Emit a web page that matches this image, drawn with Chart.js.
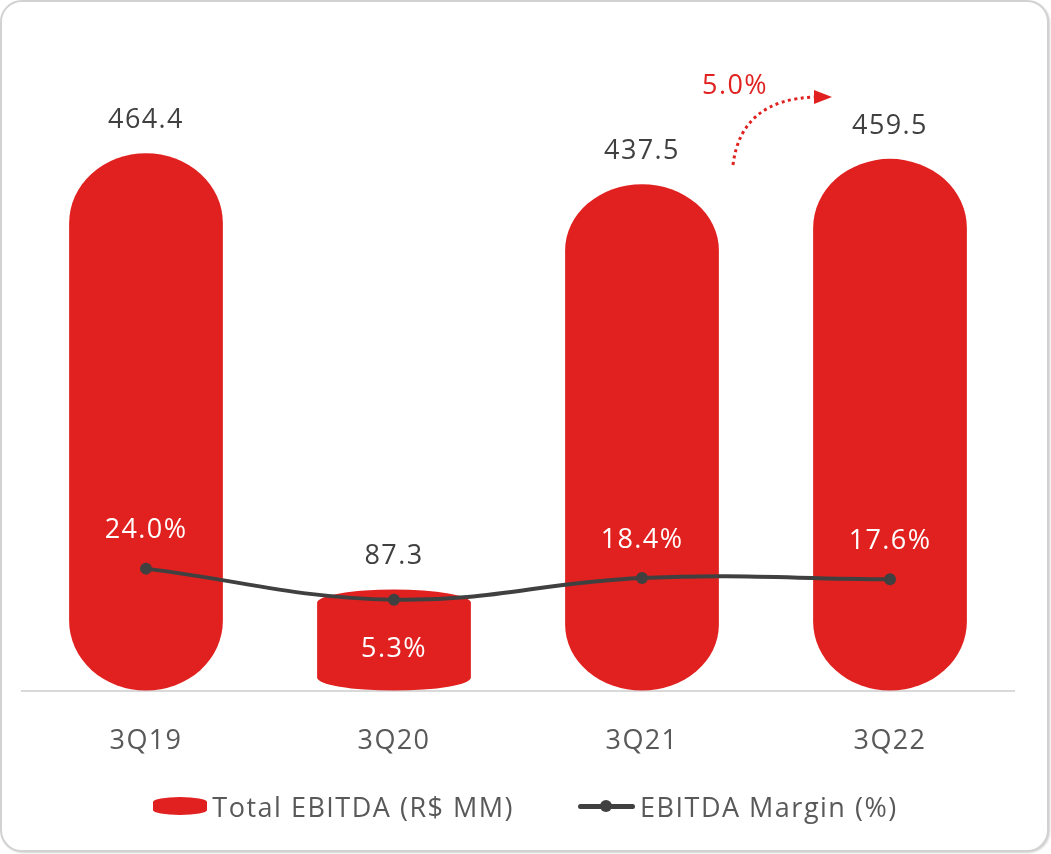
<!DOCTYPE html>
<html>
<head>
<meta charset="utf-8">
<script src="https://cdn.jsdelivr.net/npm/chart.js@4.4.0/dist/chart.umd.min.js"></script>
<style>
  html, body { margin: 0; padding: 0; background: #fff; }
  body { width: 1051px; height: 854px; position: relative; overflow: hidden; font-family: "Open Sans", sans-serif; }
  .card {
    position: absolute; left: 0; top: 0; width: 1049px; height: 852px;
    box-sizing: border-box; border: 2px solid #d2d2d2; border-radius: 22px;
    box-shadow: 1px 1px 2px rgba(0,0,0,0.18); background: #fff;
  }
  .chart-box { position: absolute; left: 0; top: 0; width: 1051px; height: 801px; }
  .legend {
    position: absolute; left: 0; top: 788px; width: 1051px; height: 36px;
    display: flex; justify-content: center; align-items: center; gap: 64px;
    color: #595959; font-size: 27px; letter-spacing: 1.5px;
  }
  .legend-item { display: flex; align-items: center; gap: 5px; }
  .mk-bar { width: 54px; height: 18px; background: #e1211f; border-radius: 27px / 5px; }
  .mk-line { position: relative; width: 57px; height: 14px; }
  .mk-line::before { content: ""; position: absolute; left: 0; right: 0; top: 5px; height: 5px; background: #404040; border-radius: 3px; }
  .mk-line::after { content: ""; position: absolute; left: 22px; top: 1px; width: 12px; height: 12px; background: #404040; border-radius: 50%; }
</style>
</head>
<body>
<div class="card"></div>
<div class="chart-box"><canvas id="ebitda-chart" width="1051" height="801"></canvas></div>
<div class="legend">
  <div class="legend-item"><span class="mk-bar"></span><span>Total EBITDA (R$ MM)</span></div>
  <div class="legend-item"><span class="mk-line"></span><span>EBITDA Margin (%)</span></div>
</div>
<script>
(function () {
  "use strict";

  const QUARTERS = ["3Q19", "3Q20", "3Q21", "3Q22"];
  const EBITDA = [464.4, 87.3, 437.5, 459.5];
  const MARGIN = [24.0, 5.3, 18.4, 17.6];
  const MARGIN_CHANGE = "5.0%";

  const RED = "#e1211f";
  const DARK = "#404040";
  const GRAY_TEXT = "#595959";
  const FONT = '"Open Sans", sans-serif';

  // slightly tracked text everywhere on the canvas
  const spacing = {
    id: "spacing",
    beforeDraw(chart) {
      chart.ctx.letterSpacing = "1.4px";
    },
  };

  // rounded-cap bars (elliptical ends) drawn from the bar elements' own geometry
  const capsuleBars = {
    id: "capsuleBars",
    beforeDatasetDraw(chart, args) {
      if (args.index !== 0) return;
      const ctx = chart.ctx;
      ctx.save();
      ctx.fillStyle = RED;
      args.meta.data.forEach((bar) => {
        const rx = bar.width / 2;
        const h = bar.base - bar.y;
        const ry = Math.min(rx, h * 0.13);
        ctx.beginPath();
        ctx.ellipse(bar.x, bar.y + ry, rx, ry, 0, Math.PI, 2 * Math.PI);
        ctx.lineTo(bar.x + rx, bar.base - ry);
        ctx.ellipse(bar.x, bar.base - ry, rx, ry, 0, 0, Math.PI);
        ctx.closePath();
        ctx.fill();
      });
      ctx.restore();
      return false;
    },
  };

  const valueLabels = {
    id: "valueLabels",
    afterDatasetsDraw(chart) {
      const ctx = chart.ctx;
      const bars = chart.getDatasetMeta(0).data;
      const points = chart.getDatasetMeta(1).data;
      ctx.save();
      ctx.letterSpacing = "1.4px";
      ctx.textAlign = "center";
      ctx.textBaseline = "middle";
      ctx.font = "27px " + FONT;

      bars.forEach((bar, i) => {
        ctx.fillStyle = DARK;
        ctx.fillText(EBITDA[i].toFixed(1), bar.x, bar.y - 33);
      });

      points.forEach((pt, i) => {
        ctx.fillStyle = "#ffffff";
        const barTop = bars[i].y;
        const below = pt.y - barTop < 40;
        ctx.fillText(MARGIN[i].toFixed(1) + "%", pt.x, below ? pt.y + 50 : pt.y - 38);
      });

      // change annotation between the last two quarters
      const x = chart.scales.x;
      const area = chart.chartArea;
      const a = x.getPixelForValue(2);
      const b = x.getPixelForValue(3);
      const mid = (a + b) / 2;
      ctx.fillStyle = RED;
      ctx.fillText(MARGIN_CHANGE, mid - 31, area.top - 26);

      const sx = mid - 33, sy = area.top + 53;
      const ex = b - 74, ey = area.top - 15;
      ctx.strokeStyle = RED;
      ctx.lineWidth = 3;
      ctx.setLineDash([3, 3.5]);
      ctx.beginPath();
      ctx.moveTo(sx, sy);
      ctx.quadraticCurveTo(sx + 8, ey + 2, ex, ey);
      ctx.stroke();
      ctx.setLineDash([]);
      ctx.beginPath();
      ctx.moveTo(ex - 2, ey - 7);
      ctx.lineTo(ex + 16, ey);
      ctx.lineTo(ex - 2, ey + 7);
      ctx.closePath();
      ctx.fill();
      ctx.restore();
    },
  };

  function init() {
    const canvas = document.getElementById("ebitda-chart");
    if (!canvas || typeof Chart === "undefined") return;

    new Chart(canvas, {
      type: "bar",
      data: {
        labels: QUARTERS,
        datasets: [
          {
            type: "bar",
            label: "Total EBITDA (R$ MM)",
            data: EBITDA,
            backgroundColor: RED,
            yAxisID: "y",
            categoryPercentage: 1,
            barPercentage: 0.62,
            order: 2,
          },
          {
            type: "line",
            label: "EBITDA Margin (%)",
            data: MARGIN,
            yAxisID: "y2",
            borderColor: DARK,
            backgroundColor: DARK,
            borderWidth: 4,
            pointRadius: 6,
            pointBackgroundColor: DARK,
            pointBorderWidth: 0,
            tension: 0.4,
            order: 1,
          },
        ],
      },
      plugins: [spacing, capsuleBars, valueLabels],
      options: {
        responsive: false,
        animation: false,
        layout: { padding: { left: 22, right: 37, top: 112, bottom: 16 } },
        plugins: { legend: { display: false }, tooltip: { enabled: false } },
        scales: {
          x: {
            grid: { display: false },
            border: { display: true, color: "#d9d9d9", width: 2 },
            ticks: { color: GRAY_TEXT, font: { family: FONT, size: 27 }, padding: 27 },
          },
          y: { display: false, min: 0, max: 500 },
          y2: { display: false, min: -49.4, max: 298.8 },
        },
      },
    });
  }

  if (document.readyState === "loading") {
    document.addEventListener("DOMContentLoaded", init);
  } else {
    init();
  }
})();
</script>
</body>
</html>
